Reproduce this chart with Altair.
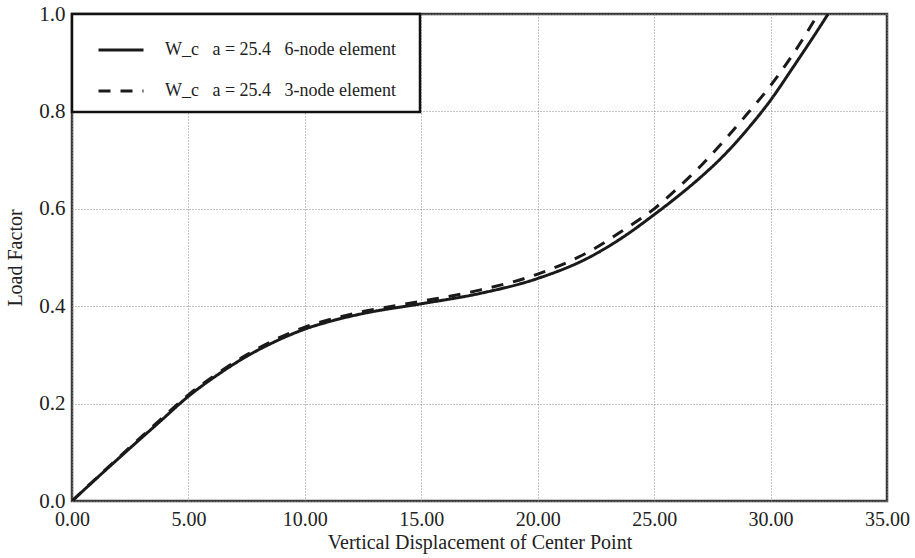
import altair as alt
import pandas as pd

NB = "\u00a0"
label_6 = f"W_c{NB*3}a = 25.4{NB*3}6-node element"
label_3 = f"W_c{NB*3}a = 25.4{NB*3}3-node element"

# 6-node element (solid)
x6 = [0, 1.25, 2.5, 3.75, 5, 6.25, 7.5, 8.75, 10, 11.25, 12.5, 15, 17.5, 20, 22.24, 23.67, 25, 26, 27, 28, 29, 30, 31, 32, 32.47]
y6 = [0, 0.055, 0.109, 0.162, 0.215, 0.259, 0.297, 0.328, 0.353, 0.371, 0.385, 0.405, 0.426, 0.457, 0.501, 0.542, 0.588, 0.625, 0.665, 0.710, 0.763, 0.823, 0.893, 0.965, 1.0]

# 3-node element (dashed)
x3 = [0, 1.25, 2.5, 3.75, 5, 6.25, 7.5, 8.75, 10, 11.25, 12.5, 15, 17.5, 20, 22.24, 23.67, 25, 26, 27, 28, 29, 30, 31, 32.04]
y3 = [0, 0.056, 0.111, 0.165, 0.218, 0.262, 0.300, 0.332, 0.357, 0.375, 0.389, 0.410, 0.433, 0.466, 0.513, 0.556, 0.600, 0.642, 0.688, 0.740, 0.795, 0.853, 0.920, 1.0]

x_ticks = [0, 5, 10, 15, 20, 25, 30, 35]
y_ticks = [0.0, 0.2, 0.4, 0.6, 0.8, 1.0]

rows = []
for i, (a, b) in enumerate(zip(x6, y6)):
    rows.append({"x": a, "y": b, "series": label_6, "order": i})
for i, (a, b) in enumerate(zip(x3, y3)):
    rows.append({"x": a, "y": b, "series": label_3, "order": i})
df = pd.DataFrame(rows)

FONT = "Liberation Serif"

chart = alt.Chart(df).mark_line(
    interpolate="monotone", strokeWidth=3, color="#1a1a1a", clip=True
).encode(
    x=alt.X("x:Q",
            scale=alt.Scale(domain=[0, 35], nice=False, zero=False),
            axis=alt.Axis(values=x_ticks, format=".2f",
                          title="Vertical Displacement of Center Point",
                          labelFontSize=20, labelPadding=8,
                          titleBaseline="alphabetic", titleY=47)),
    y=alt.Y("y:Q",
            scale=alt.Scale(domain=[0, 1], nice=False),
            axis=alt.Axis(values=y_ticks, format=".1f", title="Load Factor",
                          titlePadding=13, labelPadding=7)),
    strokeDash=alt.StrokeDash(
        "series:N",
        scale=alt.Scale(domain=[label_6, label_3], range=[[1, 0], [12, 10]]),
        legend=alt.Legend(
            title=".", titleOrient="right", titleFontSize=6, titleColor="white",
            titlePadding=10,
            orient="none", legendX=0, legendY=0,
            symbolType="stroke", symbolSize=2025, symbolStrokeWidth=3,
            symbolStrokeColor="#1a1a1a", symbolOffset=13, labelOffset=20,
            fillColor="white", strokeColor="#111", padding=12,
            rowPadding=8, labelFontSize=18, labelFont=FONT,
            labelColor="#222", labelLimit=400,
        ),
    ),
    order="order:Q",
).properties(
    width=815, height=487,
    autosize=alt.AutoSizeParams(type="none"),
    padding={"left": 72, "top": 14, "right": 28, "bottom": 57},
).configure_view(
    stroke="#3a3a3a", strokeWidth=2.5
).configure_axis(
    domain=False, ticks=False, tickSize=0, labelFlush=False,
    grid=True, gridColor="#888", gridDash=[1, 2], gridWidth=1,
    labelFont=FONT, labelFontSize=21, labelColor="#222",
    titleFont=FONT, titleFontSize=20, titleFontWeight="normal", titleColor="#222",
).configure_legend(
    strokeWidth=2.5
)

chart.save("out.html", embed_options={"renderer": "svg", "actions": False})
